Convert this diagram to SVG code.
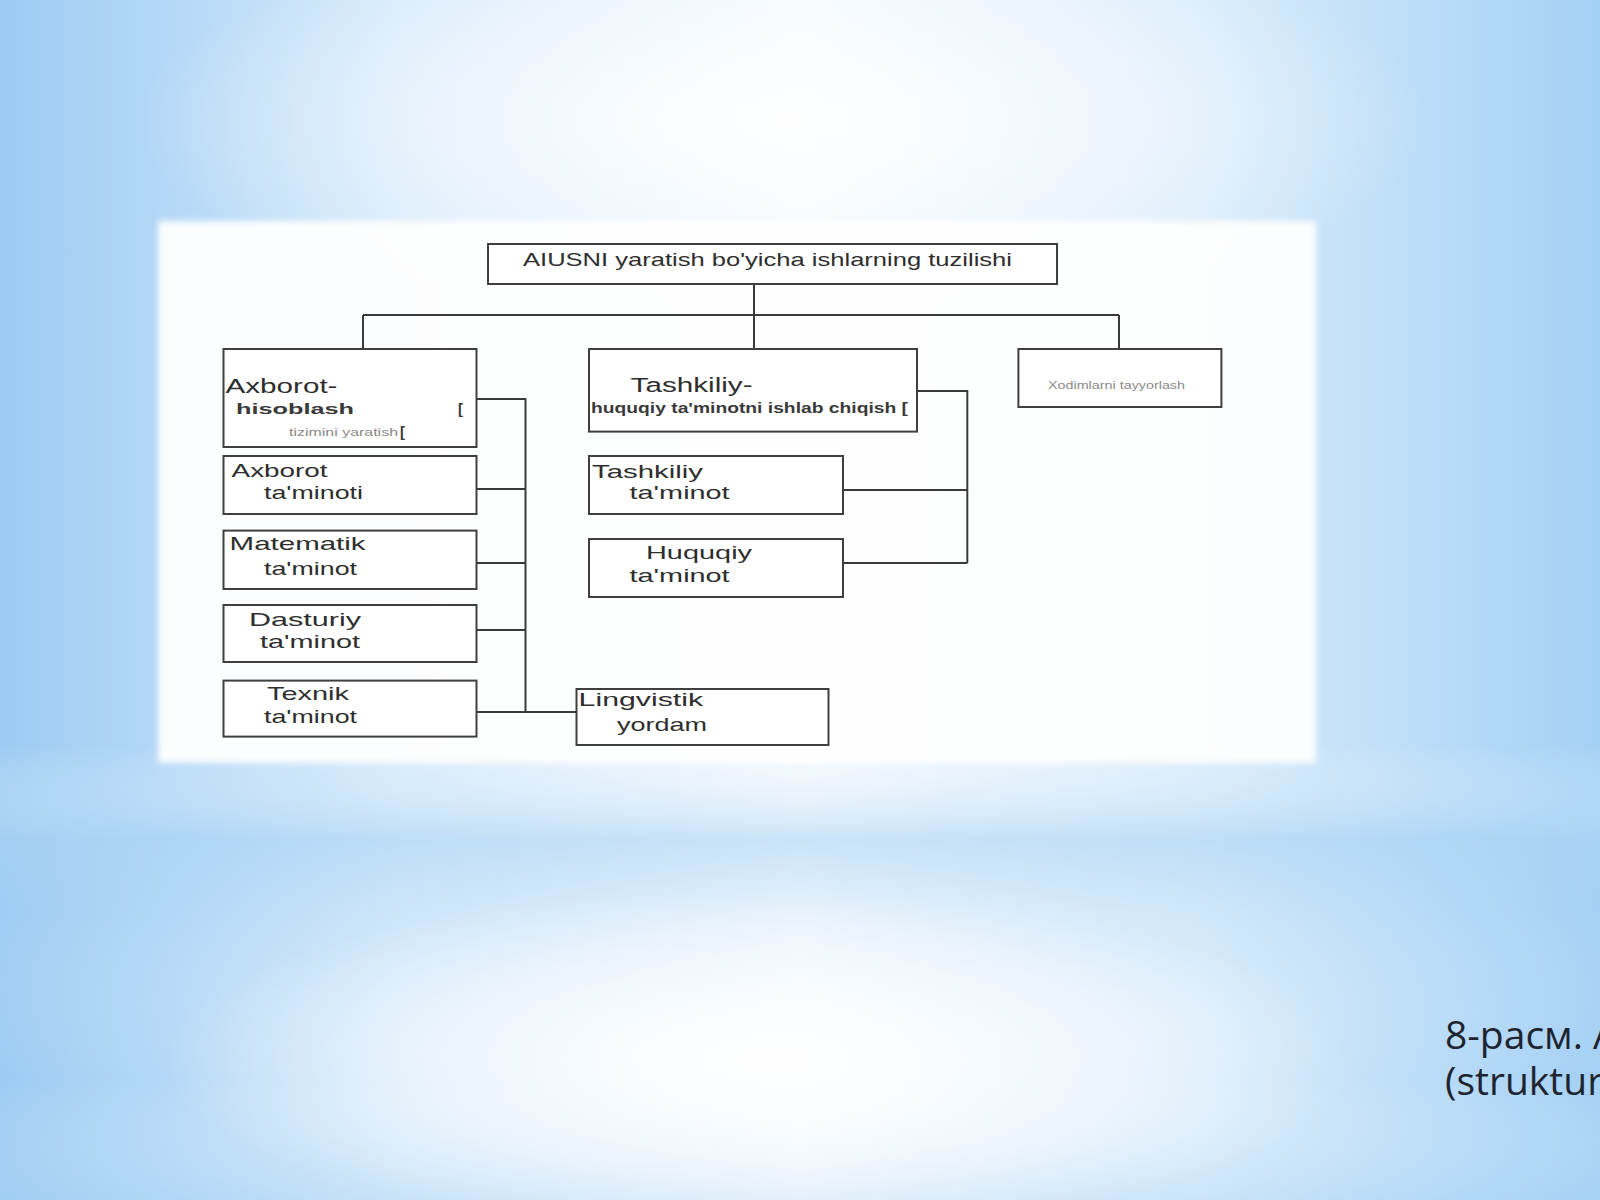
<svg xmlns="http://www.w3.org/2000/svg" width="1600" height="1200" viewBox="0 0 1600 1200">
  <defs>
    <linearGradient id="bgH" x1="0" y1="0" x2="1" y2="0">
      <stop offset="0" stop-color="#9ccbf3"/>
      <stop offset="0.25" stop-color="#d6eafb"/>
      <stop offset="0.5" stop-color="#f4f9fe"/>
      <stop offset="0.75" stop-color="#d9ecfb"/>
      <stop offset="1" stop-color="#a3d0f5"/>
    </linearGradient>
    <linearGradient id="bgV" x1="0" y1="0" x2="0" y2="1">
      <stop offset="0" stop-color="#ffffff" stop-opacity="0.0"/>
      <stop offset="0.62" stop-color="#ffffff" stop-opacity="0.0"/>
      <stop offset="0.7" stop-color="#a8d2f4" stop-opacity="0.55"/>
      <stop offset="0.76" stop-color="#a8d2f4" stop-opacity="0.2"/>
      <stop offset="0.9" stop-color="#ffffff" stop-opacity="0.0"/>
      <stop offset="1" stop-color="#a8d2f4" stop-opacity="0.3"/>
    </linearGradient>
    <radialGradient id="glowTop" cx="0.5" cy="0.5" r="0.5">
      <stop offset="0" stop-color="#ffffff" stop-opacity="0.9"/>
      <stop offset="1" stop-color="#ffffff" stop-opacity="0"/>
    </radialGradient>
    <radialGradient id="glowBot" cx="0.5" cy="0.5" r="0.5">
      <stop offset="0" stop-color="#ffffff" stop-opacity="0.95"/>
      <stop offset="1" stop-color="#ffffff" stop-opacity="0"/>
    </radialGradient>
    <filter id="soft" x="-5%" y="-5%" width="110%" height="110%">
      <feGaussianBlur stdDeviation="3"/>
    </filter>
  </defs>
  <style>
    .box { fill: #ffffff; stroke: #3f3f3f; stroke-width: 2; }
    .conn { fill: none; stroke: #3a3a3a; stroke-width: 2; }
    .t { font-family: "Liberation Sans", Arial, sans-serif; fill: #2e2e2e; }
    .big { font-size: 20px; }
    .mid { font-size: 19px; }
    .sm { font-size: 15px; font-weight: bold; fill: #3a3a3a; }
    .tiny { font-size: 11px; fill: #8a8a8a; }
    .cap { font-family: "Open Sans", "Noto Sans", sans-serif; font-size: 39px; fill: #1e2530; }
  </style>

  <!-- background -->
  <rect x="0" y="0" width="1600" height="1200" fill="url(#bgH)"/>
  <rect x="0" y="0" width="1600" height="1200" fill="url(#bgV)"/>
  <ellipse cx="780" cy="120" rx="650" ry="200" fill="url(#glowTop)"/>
  <ellipse cx="760" cy="1060" rx="600" ry="170" fill="url(#glowBot)"/>

  <!-- white panel -->
  <rect x="158" y="221" width="1158" height="542" fill="#ffffff" filter="url(#soft)" opacity="0.95"/>

  <!-- connectors -->
  <g id="connectors">
    <path class="conn" d="M754 284 V315 M363 315 H1119 M363 315 V349 M754 315 V349 M1119 315 V349"/>
    <path class="conn" d="M476.5 399 H525.5 V712 M476.5 489 H525.5 M476.5 563 H525.5 M476.5 630 H525.5 M476.5 712 H576.5"/>
    <path class="conn" d="M917 391 H967.3 V563 M843 490 H967.3 M843 563 H967.3"/>
  </g>

  <g id="root">
    <rect class="box" x="488" y="244" width="569" height="40"/>
    <text class="t" x="523" y="266" font-size="19" textLength="489" lengthAdjust="spacingAndGlyphs">AIUSNI yaratish bo'yicha ishlarning tuzilishi</text>
  </g>

  <g id="axborot-hisoblash">
    <rect class="box" x="223.5" y="349" width="253" height="98"/>
    <text class="t big" x="225.5" y="393" textLength="112" lengthAdjust="spacingAndGlyphs">Axborot-</text>
    <text class="t sm" x="236" y="414" textLength="118" lengthAdjust="spacingAndGlyphs">hisoblash</text>
    <text class="t sm" x="458" y="414">[</text>
    <text class="t tiny" x="289" y="436" textLength="109" lengthAdjust="spacingAndGlyphs">tizimini yaratish</text>
    <text class="t sm" x="400" y="437" font-size="11">[</text>
  </g>

  <g id="axborot-taminoti">
    <rect class="box" x="223.5" y="456" width="253" height="58"/>
    <text class="t mid" x="231.6" y="476.5" textLength="96" lengthAdjust="spacingAndGlyphs">Axborot</text>
    <text class="t mid" x="264" y="499" textLength="99" lengthAdjust="spacingAndGlyphs">ta'minoti</text>
  </g>

  <g id="matematik">
    <rect class="box" x="223.5" y="530.6" width="253" height="58.4"/>
    <text class="t mid" x="229.6" y="550" textLength="136" lengthAdjust="spacingAndGlyphs">Matematik</text>
    <text class="t mid" x="264" y="574.5" textLength="93" lengthAdjust="spacingAndGlyphs">ta'minot</text>
  </g>

  <g id="dasturiy">
    <rect class="box" x="223.5" y="605" width="253" height="57"/>
    <text class="t mid" x="249" y="625.5" textLength="112" lengthAdjust="spacingAndGlyphs">Dasturiy</text>
    <text class="t mid" x="260" y="648" textLength="100" lengthAdjust="spacingAndGlyphs">ta'minot</text>
  </g>

  <g id="texnik">
    <rect class="box" x="223.5" y="680.6" width="253" height="56"/>
    <text class="t mid" x="267" y="700" textLength="82" lengthAdjust="spacingAndGlyphs">Texnik</text>
    <text class="t mid" x="264" y="722.5" textLength="93" lengthAdjust="spacingAndGlyphs">ta'minot</text>
  </g>

  <g id="tashkiliy-huquqiy">
    <rect class="box" x="589" y="349" width="328" height="82.6"/>
    <text class="t big" x="630.6" y="392" textLength="122" lengthAdjust="spacingAndGlyphs">Tashkiliy-</text>
    <text class="t sm" x="591" y="413" textLength="317" lengthAdjust="spacingAndGlyphs">huquqiy ta'minotni ishlab chiqish [</text>
  </g>

  <g id="tashkiliy-taminot">
    <rect class="box" x="589" y="456" width="254" height="58"/>
    <text class="t mid" x="592" y="477.5" textLength="111" lengthAdjust="spacingAndGlyphs">Tashkiliy</text>
    <text class="t mid" x="629.6" y="499" textLength="100" lengthAdjust="spacingAndGlyphs">ta'minot</text>
  </g>

  <g id="huquqiy-taminot">
    <rect class="box" x="589" y="539" width="254" height="58"/>
    <text class="t mid" x="646" y="559" textLength="106" lengthAdjust="spacingAndGlyphs">Huquqiy</text>
    <text class="t mid" x="629.6" y="581.6" textLength="100" lengthAdjust="spacingAndGlyphs">ta'minot</text>
  </g>

  <g id="xodimlarni">
    <rect class="box" x="1018.4" y="349" width="203" height="58"/>
    <text class="t tiny" x="1048" y="389" textLength="137" lengthAdjust="spacingAndGlyphs">Xodimlarni tayyorlash</text>
  </g>

  <g id="lingvistik">
    <rect class="box" x="576.5" y="689" width="252" height="56"/>
    <text class="t mid" x="578.6" y="706" textLength="124.5" lengthAdjust="spacingAndGlyphs">Lingvistik</text>
    <text class="t mid" x="617" y="730.6" textLength="90" lengthAdjust="spacingAndGlyphs">yordam</text>
  </g>

  <g id="caption">
    <text class="cap" x="1445" y="1049">8-расм. А</text>
    <text class="cap" x="1445" y="1095">(struktura</text>
  </g>
</svg>
